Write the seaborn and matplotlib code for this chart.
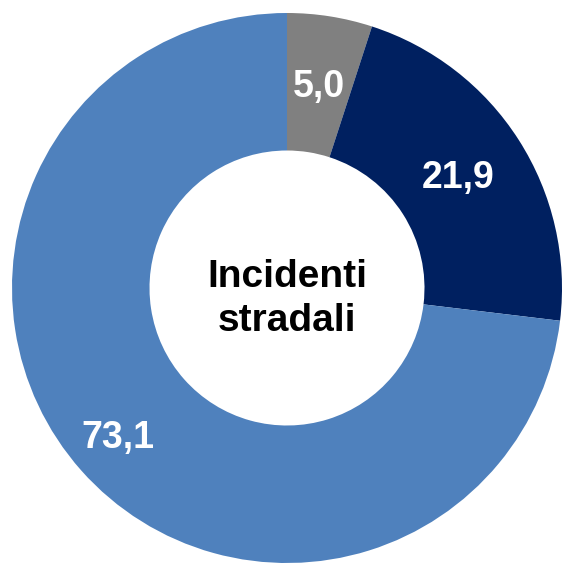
import seaborn as sns
import matplotlib.pyplot as plt

# Data
categories = ['Altro', 'Categoria B', 'Categoria A']
values = [5.0, 21.9, 73.1]
colors = ['#808080', '#002060', '#4f81bd']
center_label = 'Incidenti\nstradali'

sns.set_theme(style='white')
plt.rcParams['font.family'] = ['Liberation Sans', 'DejaVu Sans']

fig = plt.figure(figsize=(5.64, 5.67), dpi=100)
ax = fig.add_axes([12 / 564, 4 / 567, 550 / 564, 550 / 567])

wedges, texts, autotexts = ax.pie(
    values, colors=colors, startangle=90, counterclock=False,
    radius=1.0, wedgeprops=dict(width=0.50, linewidth=0),
    autopct=lambda p: f'{p:.1f}'.replace('.', ','), pctdistance=0.74,
    textprops=dict(color='white', fontsize=27, fontweight='bold'),
)
# push the big slice label a bit further out
x, y = autotexts[2].get_position()
autotexts[2].set_position((x * 0.82 / 0.74, y * 0.82 / 0.74))

ax.text(0, -0.04, center_label, ha='center', va='center', fontsize=28,
        fontweight='bold', color='black', linespacing=1.3)

ax.set_xlim(-1, 1)
ax.set_ylim(-1, 1)
ax.set_aspect('equal')
ax.axis('off')

plt.savefig('out.png', dpi=100)
